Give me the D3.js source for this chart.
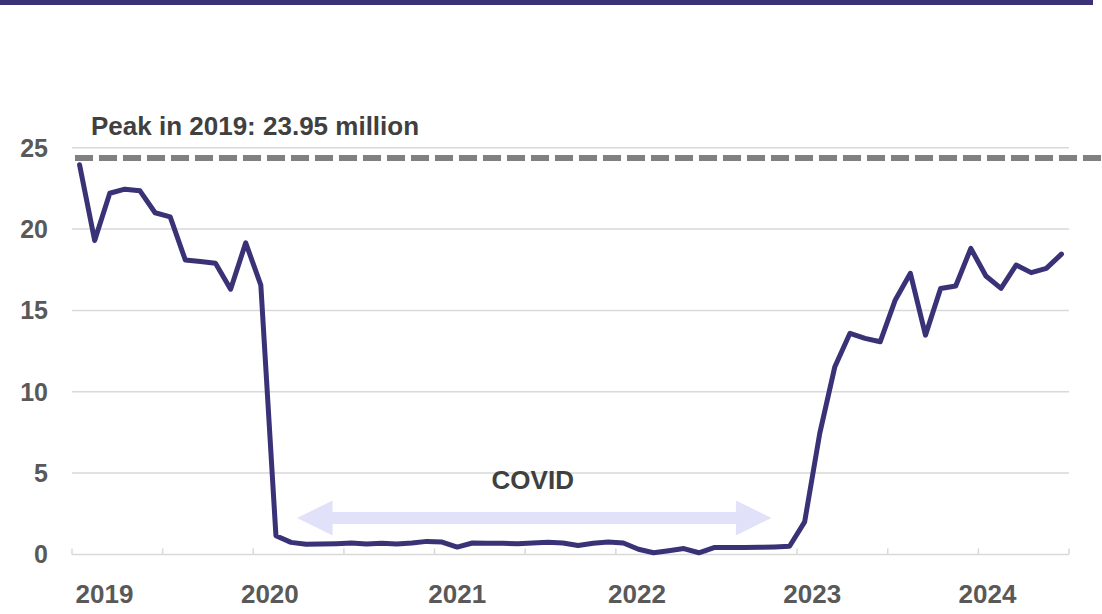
<!DOCTYPE html>
<html>
<head>
<meta charset="utf-8">
<script src="https://cdn.jsdelivr.net/npm/d3@7"></script>
<style>
  html, body { margin: 0; padding: 0; background: #ffffff; }
  svg { display: block; font-family: "Liberation Sans", Arial, sans-serif; }
</style>
</head>
<body>
<svg id="chart" width="1102" height="614"></svg>
<script>
// ---- data (millions, monthly Jan 2019 – Jun 2024) ----
const months = d3.range(66); // month index 0 = Jan 2019
const values = [
  23.95, 19.3, 22.2, 22.45, 22.35, 21.0, 20.75, 18.1, 18.0, 17.9, 16.3, 19.15,
  16.55, 1.15, 0.74, 0.62, 0.64, 0.66, 0.70, 0.64, 0.68, 0.64, 0.70, 0.80,
  0.76, 0.45, 0.70, 0.68, 0.68, 0.66, 0.70, 0.74, 0.70, 0.55, 0.68, 0.76,
  0.70, 0.32, 0.10, 0.22, 0.36, 0.10, 0.42, 0.42, 0.42, 0.44, 0.46, 0.50,
  2.0, 7.44, 11.54, 13.59, 13.28, 13.07, 15.64, 17.28, 13.48, 16.35, 16.5, 18.81,
  17.11, 16.35, 17.79, 17.32, 17.58, 18.46
];
const yTicks = [0, 5, 10, 15, 20, 25];
const xTickMonths = d3.range(-0.5, 66, 6);        // tick marks every 6 months
const yearLabels = ["2019", "2020", "2021", "2022", "2023", "2024"];
const yearLabelMonth = [1.65, 12.6, 25.0, 36.9, 48.5, 60.1];
const peakLineValue = 24.36;
const peakLabel = "Peak in 2019: 23.95 million";
const covidLabel = "COVID";
const covidStart = 14.4, covidEnd = 45.8, covidArrowValue = 2.24, covidTextValue = 4.0;

// ---- layout ----
const svg = d3.select("#chart");
const x = d3.scaleLinear().domain([-0.5, 65.5]).range([72, 1069]);
const y = d3.scaleLinear().domain([0, 25]).range([554.4, 147.7]);

// top bar
svg.append("rect").attr("x", 0).attr("y", 0).attr("width", 1093).attr("height", 5)
  .attr("fill", "#3a3276");

// gridlines
svg.append("g").selectAll("line").data(yTicks.filter(d => d > 0)).join("line")
  .attr("x1", x(-0.5)).attr("x2", x(65.5))
  .attr("y1", d => y(d)).attr("y2", d => y(d))
  .attr("stroke", "#d9d9d9").attr("stroke-width", 1.5);

// x axis line + tick marks
svg.append("line").attr("x1", x(-0.5)).attr("x2", x(65.5))
  .attr("y1", y(0)).attr("y2", y(0)).attr("stroke", "#d9d9d9").attr("stroke-width", 1.5);
svg.append("g").selectAll("line").data(xTickMonths).join("line")
  .attr("x1", d => x(d)).attr("x2", d => x(d))
  .attr("y1", y(0)).attr("y2", y(0) - 6)
  .attr("stroke", "#d9d9d9").attr("stroke-width", 1.5);

// y labels
svg.append("g").selectAll("text").data(yTicks).join("text")
  .attr("x", 48).attr("y", d => y(d)).attr("dy", "0.36em")
  .attr("text-anchor", "end").attr("font-size", 25).attr("font-weight", "bold")
  .attr("fill", "#595959").text(d => d);

// x labels
svg.append("g").selectAll("text").data(yearLabels).join("text")
  .attr("x", (d, i) => x(yearLabelMonth[i])).attr("y", 603)
  .attr("text-anchor", "middle").attr("font-size", 26).attr("font-weight", "bold")
  .attr("fill", "#595959").text(d => d);

// peak dashed line
svg.append("line").attr("x1", 75).attr("x2", 1102)
  .attr("y1", y(peakLineValue)).attr("y2", y(peakLineValue))
  .attr("stroke", "#808080").attr("stroke-width", 6).attr("stroke-dasharray", "18 6");
svg.append("text").attr("x", 91).attr("y", 135)
  .attr("font-size", 26).attr("font-weight", "bold").attr("fill", "#404040").text(peakLabel);

// COVID arrow
const ay = y(covidArrowValue), xl = x(covidStart), xr = x(covidEnd);
const head = 35.5, halfH = 17.5, halfS = 6;
const arrowPts = [
  [xl, ay], [xl + head, ay - halfH], [xl + head, ay - halfS], [xr - head, ay - halfS],
  [xr - head, ay - halfH], [xr, ay], [xr - head, ay + halfH], [xr - head, ay + halfS],
  [xl + head, ay + halfS], [xl + head, ay + halfH]
];
svg.append("polygon").attr("points", arrowPts.map(p => p.join(",")).join(" "))
  .attr("fill", "#e1e1fa");
svg.append("text").attr("x", x((covidStart + covidEnd) / 2 - 0.1)).attr("y", y(covidTextValue))
  .attr("text-anchor", "middle").attr("font-size", 26).attr("font-weight", "bold")
  .attr("fill", "#404040").text(covidLabel);

// main line
const line = d3.line().x((d, i) => x(months[i])).y(d => y(d));
svg.append("path").datum(values).attr("d", line)
  .attr("fill", "none").attr("stroke", "#3a3276").attr("stroke-width", 5)
  .attr("stroke-linejoin", "round").attr("stroke-linecap", "round");
</script>
</body>
</html>
